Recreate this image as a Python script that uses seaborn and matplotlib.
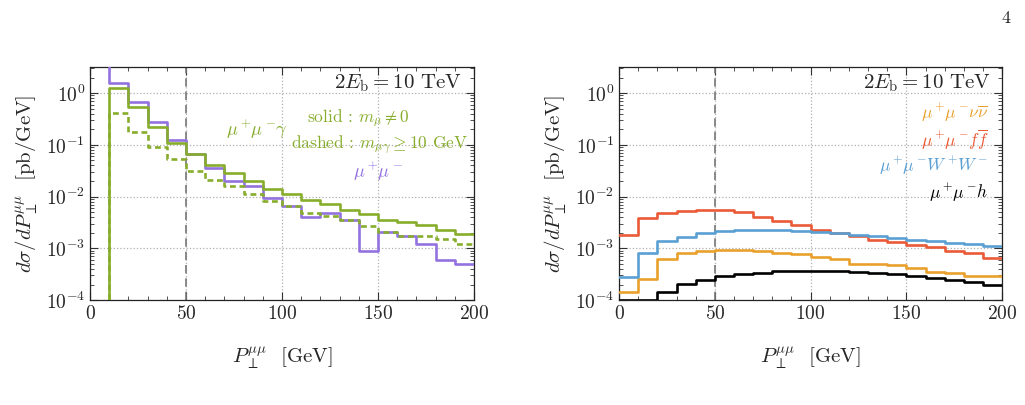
import numpy as np
import pandas as pd
import seaborn as sns
import matplotlib.pyplot as plt
from matplotlib.ticker import MultipleLocator, LogLocator, NullFormatter

# bin left edges (GeV), 10 GeV bins from 0 to 200
edges = list(range(0, 200, 10))

# left panel
mumu = [20, 1.55, 0.68, 0.28, 0.123, 0.068, 0.036, 0.020, 0.0158, 0.0094,
        0.0066, 0.0040, 0.0049, 0.0035, 0.00088, 0.0021, 0.00174, 0.0012, 0.0006, 0.00049]
mumug_solid = [1e-6, 1.28, 0.53, 0.22, 0.111, 0.068, 0.041, 0.028, 0.020, 0.014,
               0.0112, 0.0087, 0.0071, 0.0056, 0.0047, 0.0035, 0.0032, 0.0028, 0.0023, 0.0019]
mumug_dashed = [1e-6, 0.41, 0.177, 0.091, 0.053, 0.031, 0.021, 0.0158, 0.0112, 0.0084,
                0.0066, 0.0049, 0.0042, 0.0035, 0.0027, 0.0021, 0.00174, 0.00174, 0.0015, 0.0012]

# right panel
nunu = [0.000141, 0.000258, 0.00063, 0.00080, 0.00090, 0.00091, 0.00091, 0.00088, 0.00082, 0.00078,
        0.00069, 0.00063, 0.00050, 0.00049, 0.00047, 0.00042, 0.00035, 0.00034, 0.00029, 0.00029]
ffbar = [0.00178, 0.0038, 0.0049, 0.0052, 0.0056, 0.0056, 0.0051, 0.0041, 0.0034, 0.0028,
         0.0023, 0.0020, 0.00170, 0.00145, 0.00135, 0.00116, 0.00105, 0.00087, 0.00081, 0.00066]
ww = [0.00028, 0.00083, 0.00137, 0.00166, 0.00196, 0.0022, 0.00224, 0.0023, 0.00224, 0.0022,
      0.00205, 0.00194, 0.00182, 0.0017, 0.00158, 0.00148, 0.00137, 0.00126, 0.00122, 0.00113]
higgs = [1.0e-4, 1.0e-4, 0.000145, 0.000204, 0.00025, 0.00029, 0.00032, 0.00034, 0.00036, 0.00037,
         0.00037, 0.00036, 0.00035, 0.00033, 0.00032, 0.00029, 0.00027, 0.00025, 0.00022, 0.000195]

PURPLE = "#9372e0"
GREEN = "#87ad2c"
ORANGE = "#e9a02c"
RED = "#ea5a36"
BLUE = "#5a9fd2"

sns.set_theme(style="ticks")
plt.rcParams['font.family'] = ['cmr10', 'DejaVu Serif']
plt.rcParams['mathtext.fontset'] = 'cm'
plt.rcParams['axes.formatter.use_mathtext'] = True
plt.rcParams['axes.unicode_minus'] = False


def hist(ax, vals, color, ls='-'):
    # repeat last value so the step reaches 200
    df = pd.DataFrame({'x': edges + [200], 'y': vals + [vals[-1]]})
    sns.lineplot(data=df, x='x', y='y', ax=ax, color=color, lw=1.9,
                 drawstyle='steps-post', linestyle=ls, zorder=3)


def style(ax):
    ax.set_yscale('log')
    ax.set_xlim(0, 200)
    ax.set_ylim(1e-4, 10**0.5)
    ax.xaxis.set_major_locator(MultipleLocator(50))
    ax.xaxis.set_minor_locator(MultipleLocator(10))
    ax.yaxis.set_major_locator(LogLocator(base=10, numticks=10))
    ax.yaxis.set_minor_locator(LogLocator(base=10, subs=np.arange(2, 10), numticks=20))
    ax.yaxis.set_minor_formatter(NullFormatter())
    ax.tick_params(which='both', direction='in', top=True, right=True, labelsize=14, color='#333333')
    ax.tick_params(which='major', length=6, width=0.8)
    ax.tick_params(which='minor', length=3, width=0.6)
    ax.grid(True, which='major', ls=':', color='#b0b0b0', lw=0.9)
    ax.axvline(50, color='#777777', ls=(0, (5, 3)), lw=1.2, zorder=2)
    for s in ax.spines.values():
        s.set_color('#222222')
        s.set_linewidth(0.9)
    ax.set_xlabel(r'$P_\perp^{\mu\mu}$  [GeV]', fontsize=15, labelpad=16)
    ax.set_ylabel(r'$d\sigma/dP_\perp^{\mu\mu}$  [pb/GeV]', fontsize=15, labelpad=4)
    ax.text(0.97, 0.93, r'$2E_{\rm b} = 10$ TeV', transform=ax.transAxes,
            ha='right', va='center', fontsize=15)


fig = plt.figure(figsize=(10.25, 4.05), dpi=100)
ax1 = fig.add_axes([0.0878, 0.259, 0.3746, 0.575])
ax2 = fig.add_axes([0.604, 0.259, 0.3737, 0.575])

hist(ax1, mumu, PURPLE)
hist(ax1, mumug_solid, GREEN)
hist(ax1, mumug_dashed, GREEN, ls=(0, (2.2, 1.4)))
style(ax1)
ax1.text(87, 0.2, r'$\mu^+\!\mu^-\!\gamma$', color=GREEN, fontsize=13, ha='center', va='center')
ax1.text(140, 0.32, r'solid : $m_\mu \neq 0$', color=GREEN, fontsize=12.5, ha='center', va='center')
ax1.text(151, 0.1, r'dashed : $m_{\mu\gamma} \geq 10$ GeV', color=GREEN, fontsize=12.5, ha='center', va='center')
ax1.text(150, 0.031, r'$\mu^+\!\mu^-$', color=PURPLE, fontsize=13, ha='center', va='center')

hist(ax2, nunu, ORANGE)
hist(ax2, ffbar, RED)
hist(ax2, ww, BLUE)
hist(ax2, higgs, 'black')
style(ax2)
ax2.text(0.965, 0.805, r'$\mu^+\!\mu^-\!\nu\overline{\nu}$', color=ORANGE, fontsize=12.5,
         ha='right', va='center', transform=ax2.transAxes)
ax2.text(0.965, 0.69, r'$\mu^+\!\mu^-\! f\overline{f}$', color=RED, fontsize=12.5,
         ha='right', va='center', transform=ax2.transAxes)
ax2.text(0.965, 0.575, r'$\mu^+\!\mu^-\! W^+\!W^-$', color=BLUE, fontsize=12.5,
         ha='right', va='center', transform=ax2.transAxes)
ax2.text(0.965, 0.46, r'$\mu^+\!\mu^-\! h$', color='black', fontsize=12.5,
         ha='right', va='center', transform=ax2.transAxes)

fig.text(0.981, 0.955, '4', fontsize=13, ha='center', va='center')

fig.savefig('out.png', dpi=100)
